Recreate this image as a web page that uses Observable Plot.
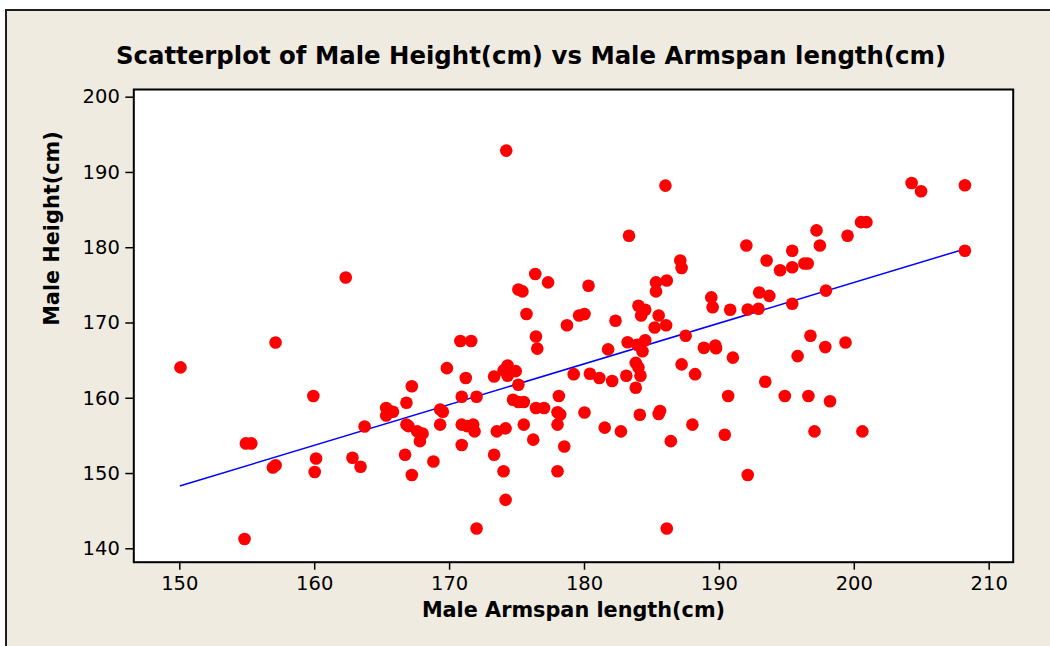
<!DOCTYPE html>
<html>
<head>
<meta charset="utf-8">
<script src="https://cdn.jsdelivr.net/npm/d3@7"></script>
<script src="https://cdn.jsdelivr.net/npm/@observablehq/plot@0.6"></script>
<style>
  html, body { margin: 0; padding: 0; background: #ffffff; }
  #page { position: relative; width: 1050px; height: 646px; overflow: hidden; background: #ffffff; }
  #bg { position: absolute; left: 5px; top: 9px; right: 0; bottom: 0; background: #EFEBE1;
        border-top: 2px solid #1e1e1e; border-left: 2px solid #1e1e1e; }
  #title { position: absolute; left: 0; top: 44px; width: 1062px; text-align: center;
           font-family: "DejaVu Sans", sans-serif; font-weight: bold; font-size: 24.4px;
           line-height: 24.4px; color: #000; white-space: nowrap; }
  #chart { position: absolute; left: 0; top: 80px; }
  #chart svg { background: transparent !important; }
</style>
</head>
<body>
<div id="page">
  <div id="bg"></div>
  <div id="title">Scatterplot of Male Height(cm) vs Male Armspan length(cm)</div>
  <div id="chart"></div>
</div>
<script>
// Male armspan length (cm) — x values
const armspan = [
  150.05, 154.9, 155.3, 154.8, 156.9, 157.1, 157.1, 159.9, 160.1, 160.0,
  162.3, 162.8, 163.4, 163.7, 165.3, 165.8, 165.3, 166.8, 167.2, 166.8,
  166.95, 167.6, 168.0, 167.8, 166.7, 167.2, 168.8, 169.3, 169.5, 169.3,
  169.8, 170.8, 171.6, 171.2, 170.9, 172.0, 170.9, 171.3, 171.75, 171.85,
  170.9, 172.0, 173.3, 174.3, 174.0, 174.5, 174.9, 174.3, 175.1, 174.7,
  175.1, 175.5, 176.4, 177.0, 176.4, 176.5, 175.7, 175.5, 176.2, 173.3,
  174.0, 174.15, 173.5, 174.15, 174.2, 176.35, 175.1, 175.4, 186.0, 183.3,
  192.0, 193.5, 187.1, 187.2, 177.3, 180.3, 185.3, 186.1, 185.3, 189.4,
  189.5, 190.8, 192.95, 193.7, 192.1, 192.9, 194.5, 184.0, 184.5, 184.2,
  185.5, 186.05, 182.3, 180.0, 179.6, 178.7, 185.2, 187.5, 183.2, 183.9,
  184.5, 184.3, 181.75, 188.85, 189.7, 189.75, 191.0, 187.2, 183.8, 184.0,
  184.15, 183.1, 183.8, 182.05, 181.1, 180.4, 179.2, 188.2, 193.4, 178.1,
  178.0, 178.2, 178.0, 178.5, 180.0, 181.5, 182.7, 184.1, 185.5, 185.6,
  186.4, 188.0, 190.4, 190.65, 192.1, 178.0, 186.1, 204.25, 204.95, 208.2,
  208.2, 200.5, 200.9, 199.5, 197.2, 197.45, 195.4, 195.4, 196.3, 196.55,
  197.9, 195.4, 196.75, 197.85, 199.35, 195.8, 194.85, 196.6, 198.2, 197.05,
  200.6
];
// Male height (cm) — y values
const height = [
  164.1, 154.0, 154.0, 141.3, 150.8, 151.1, 167.4, 160.3, 152.0, 150.2,
  176.05, 152.1, 150.9, 156.25, 158.7, 158.2, 157.7, 159.4, 161.6, 156.5,
  156.3, 155.6, 155.3, 154.3, 152.5, 149.8, 151.6, 158.5, 158.2, 156.5,
  164.0, 167.6, 167.6, 162.7, 160.2, 160.2, 156.5, 156.3, 156.5, 155.6,
  153.8, 142.7, 162.9, 164.35, 163.7, 163.5, 163.6, 163.0, 161.8, 159.8,
  159.5, 159.5, 158.7, 158.7, 168.2, 166.6, 171.2, 156.5, 154.5, 152.5,
  150.3, 146.5, 155.6, 156.0, 192.9, 176.5, 174.45, 174.2, 188.25, 181.6,
  180.3, 178.3, 178.3, 177.3, 175.4, 174.95, 175.4, 175.65, 174.2, 173.4,
  172.1, 171.75, 174.05, 173.6, 171.8, 171.9, 177.0, 172.3, 171.75, 171.0,
  171.0, 169.7, 170.3, 171.2, 171.0, 169.7, 169.4, 168.3, 167.45, 167.1,
  167.7, 166.25, 166.5, 166.7, 167.0, 166.65, 165.4, 164.5, 164.7, 164.1,
  163.0, 163.0, 161.4, 162.3, 162.7, 163.25, 163.2, 163.2, 162.2, 160.3,
  158.15, 157.85, 156.5, 153.6, 158.1, 156.1, 155.6, 157.8, 157.9, 158.3,
  154.3, 156.5, 155.15, 160.3, 149.8, 150.3, 142.7, 188.6, 187.5, 188.3,
  179.6, 183.4, 183.4, 181.6, 182.3, 180.3, 179.6, 177.4, 177.9, 177.9,
  174.3, 172.55, 168.3, 166.8, 167.4, 165.6, 160.3, 160.3, 159.6, 155.6,
  155.6
];
// Fitted line shown in the chart (coefficients)
const fitIntercept = 67.2;
const fitSlope = 0.541;

const xTicks = [150, 160, 170, 180, 190, 200, 210];
const yTicks = [140, 150, 160, 170, 180, 190, 200];
const xLabel = "Male Armspan length(cm)";
const yLabel = "Male Height(cm)";

const data = armspan.map((a, i) => ({armspan: a, height: height[i]}));
const fitLine = d3.extent(armspan).map(a => ({armspan: a, height: fitIntercept + fitSlope * a}));

const chart = Plot.plot({
  width: 1050,
  height: 566,
  marginLeft: 133.3,
  marginRight: 37.3,
  marginTop: 9,
  marginBottom: 84.3,
  style: {fontFamily: "DejaVu Sans, sans-serif", background: "transparent", color: "#000", overflow: "visible"},
  x: {domain: [146.59, 211.78]},
  y: {domain: [138.22, 201.02]},
  marks: [
    Plot.frame({fill: "white", stroke: "none"}),
    Plot.axisX({ticks: xTicks, tickSize: 8, tickPadding: 6, fontSize: 19.5, label: null, stroke: "#000", strokeWidth: 1.5}),
    Plot.axisY({ticks: yTicks, tickSize: 8, tickPadding: 6, fontSize: 19.5, label: null, stroke: "#000", strokeWidth: 1.5}),
    Plot.line(fitLine, {x: "armspan", y: "height", stroke: "#0000FF", strokeWidth: 1.5}),
    Plot.dot(data, {x: "armspan", y: "height", r: 6.3, fill: "#FF0000", stroke: "none"}),
    Plot.frame({stroke: "#000", strokeWidth: 2}),
    Plot.text([xLabel], {frameAnchor: "bottom", dy: 55, text: d => d, fontSize: 20.8, fontWeight: "bold", fill: "#000"}),
    Plot.text([yLabel], {frameAnchor: "left", dx: -81, rotate: -90, text: d => d, fontSize: 20.8, fontWeight: "bold", fill: "#000"})
  ]
});
document.getElementById("chart").appendChild(chart);
</script>
</body>
</html>
